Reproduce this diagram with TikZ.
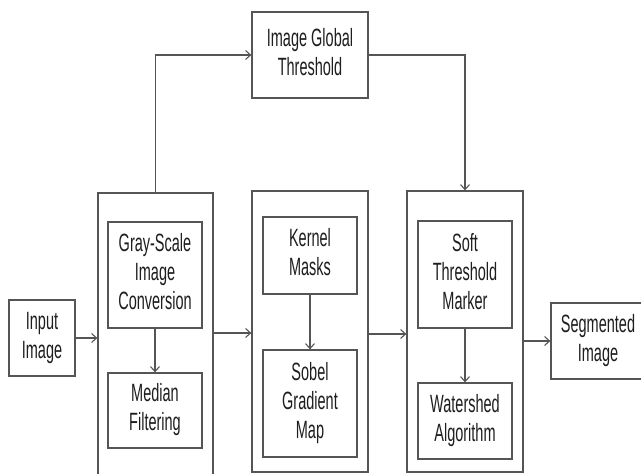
\documentclass[tikz,border=0pt]{standalone}
\usepackage{fontspec}
\setmainfont{Liberation Sans}
\usetikzlibrary{arrows.meta}
\definecolor{linec}{RGB}{85,85,85}
\definecolor{txtc}{RGB}{30,30,30}
\newcommand\lbl[1]{\scalebox{0.58}[1]{\begin{tabular}{@{}c@{}}#1\end{tabular}}}
\tikzset{
  box/.style={draw=linec, line width=1.3pt, rectangle, inner sep=0pt, text=txtc,
    font=\fontsize{25}{29}\selectfont, fill=white},
  arr/.style={draw=linec, line width=1.1pt, -{Straight Barb[length=5pt,width=9pt]}},
}
\begin{document}
\begin{tikzpicture}[x=1pt,y=-1pt]
\useasboundingbox (0,0) rectangle (641,474);
\fill[white] (0,0) rectangle (641,474);
% outer boxes
\node[box, minimum width=115, minimum height=287] (o1) at (155.5,336.5) {};
\node[box, minimum width=116, minimum height=281] (o2) at (310,331.5) {};
\node[box, minimum width=116, minimum height=281] (o3) at (465,331.5) {};
% top
\node[box, minimum width=116, minimum height=86] (glob) at (310,55) {\lbl{Image Global\\Threshold}};
% inner
\node[box, minimum width=94, minimum height=106] (gray) at (155,275) {\lbl{Gray-Scale\\Image\\Conversion}};
\node[box, minimum width=94, minimum height=75] (med) at (155,410.5) {\lbl{Median\\Filtering}};
\node[box, minimum width=94, minimum height=77] (ker) at (310,255.5) {\lbl{Kernel\\Masks}};
\node[box, minimum width=94, minimum height=107] (sob) at (310,403.5) {\lbl{Sobel\\Gradient\\Map}};
\node[box, minimum width=94, minimum height=107] (soft) at (465,274.5) {\lbl{Soft\\Threshold\\Marker}};
\node[box, minimum width=94, minimum height=76] (wat) at (465,421) {\lbl{Watershed\\Algorithm}};
% ends
\node[box, minimum width=66, minimum height=76] (inp) at (42,338) {\lbl{Input\\Image}};
\node[box, minimum width=94, minimum height=76] (seg) at (598,341) {\lbl{Segmented\\Image}};
% connectors
\draw[arr] (inp.east) -- (o1.west |- inp.east);
\draw[arr] (o1.east |- 0,333) -- (o2.west |- 0,333);
\draw[arr] (o2.east |- 0,334) -- (o3.west |- 0,334);
\draw[arr] (o3.east |- seg.west) -- (seg.west);
\draw[arr] (gray.south) -- (med.north);
\draw[arr] (ker.south) -- (sob.north);
\draw[arr] (soft.south) -- (wat.north);
\draw[arr] (o1.north) |- (glob.west);
\draw[arr] (glob.east) -| (o3.north);
\end{tikzpicture}
\end{document}
